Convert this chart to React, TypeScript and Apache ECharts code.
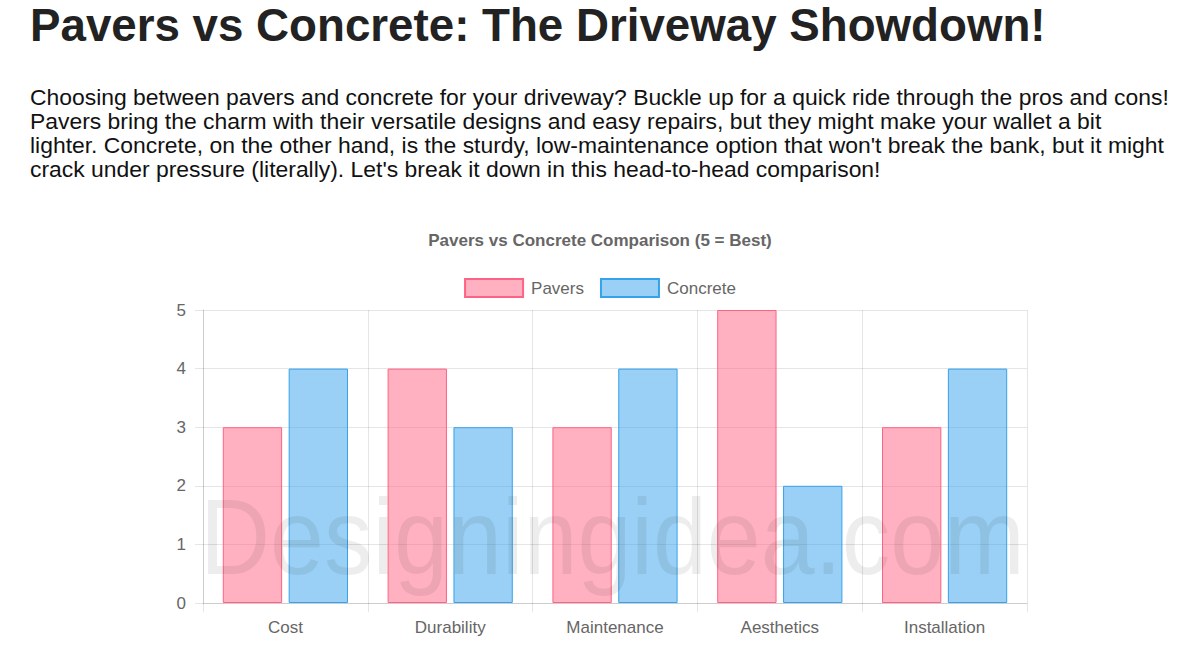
import React, { useEffect, useRef } from "react";
import * as echarts from "echarts";

const categories = ["Cost", "Durability", "Maintenance", "Aesthetics", "Installation"];
const paversScores = [3, 4, 3, 5, 3];
const concreteScores = [4, 3, 4, 2, 4];
const seriesNames = ["Pavers", "Concrete"];

const pageTitle = "Pavers vs Concrete: The Driveway Showdown!";
const introLines = [
  "Choosing between pavers and concrete for your driveway? Buckle up for a quick ride through the pros and cons!",
  "Pavers bring the charm with their versatile designs and easy repairs, but they might make your wallet a bit",
  "lighter. Concrete, on the other hand, is the sturdy, low-maintenance option that won't break the bank, but it might",
  "crack under pressure (literally). Let's break it down in this head-to-head comparison!",
];
const chartTitle = "Pavers vs Concrete Comparison (5 = Best)";
const watermark = "Designingidea.com";

const FONT = "'Liberation Sans', Arial, sans-serif";
const GRID = "rgba(0,0,0,0.1)";

export default function App() {
  const ref = useRef<HTMLDivElement>(null);

  useEffect(() => {
    if (!ref.current) return;
    const chart = echarts.init(ref.current, undefined, { renderer: "svg" });

    const elements: any[] = [
      {
        type: "text",
        x: 30,
        y: 2,
        silent: true,
        style: {
          text: pageTitle,
          font: `bold 45.7px ${FONT}`,
          fill: "#222222",
        },
      },
      ...introLines.map((line, i) => ({
        type: "text",
        x: 30,
        y: 85 + i * 24,
        silent: true,
        style: {
          text: line,
          font: `22.9px ${FONT}`,
          fill: "#111111",
        },
      })),
      {
        type: "text",
        x: 200,
        y: 484,
        scaleY: 1.1,
        z: 100,
        silent: true,
        style: {
          text: watermark,
          font: `97px ${FONT}`,
          fill: "rgba(0,0,0,0.07)",
        },
      },
    ];

    chart.setOption({
      animation: false,
      backgroundColor: "#ffffff",
      title: {
        text: chartTitle,
        left: "center",
        top: 227,
        textStyle: {
          fontFamily: FONT,
          fontSize: 17,
          fontWeight: "bold",
          color: "#666666",
        },
      },
      legend: {
        data: seriesNames,
        top: 273,
        left: "center",
        itemWidth: 58,
        itemHeight: 18,
        itemGap: 16,
        icon: "rect",
        textStyle: {
          fontFamily: FONT,
          fontSize: 17,
          color: "#666666",
          padding: [0, 0, 0, 3],
        },
      },
      grid: {
        left: 203,
        right: 173,
        top: 310,
        bottom: 50,
        containLabel: false,
      },
      xAxis: {
        type: "category",
        data: categories,
        axisLine: { show: true, lineStyle: { color: GRID, width: 1 } },
        axisTick: { show: true, length: 9, alignWithLabel: false, lineStyle: { color: GRID } },
        splitLine: { show: true, lineStyle: { color: GRID, width: 1 } },
        axisLabel: {
          fontFamily: FONT,
          fontSize: 17,
          color: "#666666",
          margin: 16,
        },
      },
      yAxis: {
        type: "value",
        min: 0,
        max: 5,
        interval: 1,
        axisLine: { show: true, lineStyle: { color: GRID, width: 1 } },
        axisTick: { show: true, length: 8, lineStyle: { color: GRID } },
        splitLine: { show: true, lineStyle: { color: GRID, width: 1 } },
        axisLabel: {
          fontFamily: FONT,
          fontSize: 17,
          color: "#666666",
          margin: 17,
        },
      },
      series: [
        {
          name: seriesNames[0],
          type: "bar",
          data: paversScores,
          barWidth: "36%",
          barGap: "11%",
          itemStyle: {
            color: "rgba(255,99,132,0.5)",
            borderColor: "rgb(255,99,132)",
            borderWidth: 1,
          },
        },
        {
          name: seriesNames[1],
          type: "bar",
          data: concreteScores,
          barWidth: "36%",
          barGap: "11%",
          itemStyle: {
            color: "rgba(54,162,235,0.5)",
            borderColor: "rgb(54,162,235)",
            borderWidth: 1,
          },
        },
      ],
      graphic: { elements },
    });

    return () => chart.dispose();
  }, []);

  return (
    <div
      ref={ref}
      style={{ position: "absolute", left: 0, top: 0, width: 1200, height: 653 }}
    />
  );
}
